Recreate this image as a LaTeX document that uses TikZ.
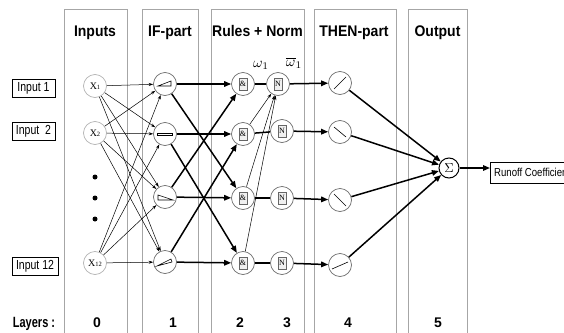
\documentclass[tikz,border=0pt]{standalone}
\usepackage{fontspec}
\setmainfont{Liberation Sans}
\newfontfamily\serifx{Liberation Serif}
\usetikzlibrary{arrows.meta}
\newcommand{\tall}[2]{\scalebox{1}[#1]{#2}}
\begin{document}
\begin{tikzpicture}[x=1pt,y=-1pt,
  colbox/.style={draw=gray!70, line width=0.8pt},
  title/.style={font=\fontsize{14}{14}\selectfont\bfseries, anchor=base, inner sep=0pt},
  layer/.style={font=\fontsize{14}{14}\selectfont\bfseries, anchor=base, inner sep=0pt},
  inbox/.style={draw, line width=0.9pt, minimum width=43pt, minimum height=18pt, inner sep=0pt, font=\fontsize{10.5}{10.5}\selectfont},
  neuron/.style={circle, draw=gray!85!black, line width=0.7pt, minimum size=23pt, inner sep=0pt},
  thinarr/.style={-{Stealth[length=4.5pt,width=3pt]}, line width=0.5pt},
  thickarr/.style={-{Triangle[length=7pt,width=5.5pt]}, line width=1.5pt},
  thickline/.style={line width=1.5pt},
  glyph/.style={line width=0.6pt},
  minibox/.style={draw=gray!80!black, fill=gray!12, line width=0.6pt, minimum width=8pt, minimum height=12pt, inner sep=0pt, font=\serifx\fontsize{8}{8}\selectfont}
]
\useasboundingbox (0,0) rectangle (564,332);
\clip (0,0) rectangle (564,332);

% column boxes
\draw[colbox] (64,9) rectangle (127,345);
\draw[colbox] (142,9) rectangle (198,345);
\draw[colbox] (211,9) rectangle (304,345);
\draw[colbox] (314,9) rectangle (396,345);
\draw[colbox] (408,9) rectangle (467,345);

% titles
\node[title] (tin) at (95,36) {\tall{1.1}{Inputs}};
\node[title] (tif) at (170,36) {\tall{1.1}{IF-part}};
\node[title] (tru) at (257.5,36) {\tall{1.1}{Rules + Norm}};
\node[title] (tth) at (354,36) {\tall{1.1}{THEN-part}};
\node[title] (tou) at (437.5,36) {\tall{1.1}{Output}};

% input boxes
\node[inbox] (in1) at (33.5,88) {\tall{1.25}{Input 1}};
\node[inbox] (in2) at (33.5,131) {\tall{1.25}{Input\ \ 2}};
\node[inbox, minimum width=46pt] (in12) at (35,266) {\tall{1.25}{Input 12}};

% layer 0
\node[neuron, draw=gray!60] (x1) at (95,86) {\serifx\fontsize{10}{10}\selectfont X\raisebox{-0.5pt}{\fontsize{6.5}{6.5}\selectfont 1}};
\node[neuron, draw=gray!60] (x2) at (95,133) {\serifx\fontsize{10}{10}\selectfont X\raisebox{-0.5pt}{\fontsize{6.5}{6.5}\selectfont 2}};
\node[neuron, draw=gray!60] (x12) at (95,263) {\serifx\fontsize{10}{10}\selectfont X\raisebox{-0.5pt}{\fontsize{6.5}{6.5}\selectfont 12}};
\fill (95,177) circle (2.5);
\fill (95,198) circle (2.5);
\fill (95,219) circle (2.5);

% layer 1
\node[neuron] (if1) at (165,84) {};
\node[neuron] (if2) at (165,134) {};
\node[neuron] (if3) at (165,197) {};
\node[neuron] (if4) at (165,262) {};
\begin{scope}[shift={(if1.center)}]
  \draw[glyph] (-7,2) -- (6,2) -- (6,-3) -- cycle;
\end{scope}
\begin{scope}[shift={(if2.center)}]
  \draw[glyph] (-8,-1) rectangle (7,1.5);
\end{scope}
\begin{scope}[shift={(if3.center)}]
  \draw[glyph] (-7,-2) -- (-7,3) -- (8,3) -- cycle;
\end{scope}
\begin{scope}[shift={(if4.center)}]
  \draw[glyph] (-8,4) -- (7,0) -- (6,-3) -- cycle;
\end{scope}

% layer 2 and 3
\foreach \i/\y in {1/84,2/134,3/198,4/263}{
  \node[neuron] (r\i) at (243,\y) {};
  \node[minibox] (rb\i) at (r\i) {\&};
}
\node[neuron] (n1) at (278,84) {};
\node[neuron] (n2) at (282,131) {};
\node[neuron] (n3) at (282,198) {};
\node[neuron] (n4) at (282,263) {};
\foreach \i in {1,2,3,4}{
  \node[minibox] (nb\i) at (n\i) {N};
}

% layer 4
\node[neuron] (t1) at (340,83) {};
\node[neuron] (t2) at (340,132) {};
\node[neuron] (t3) at (340,200) {};
\node[neuron] (t4) at (340,265) {};
\begin{scope}[shift={(t1.center)}]
  \draw[glyph] (-6,6) -- (6,-6);
\end{scope}
\begin{scope}[shift={(t2.center)}]
  \draw[glyph] (-6,-5) -- (6,5);
\end{scope}
\begin{scope}[shift={(t3.center)}]
  \draw[glyph] (-6,-6) -- (6,6);
\end{scope}
\begin{scope}[shift={(t4.center)}]
  \draw[glyph] (-8,4) -- (8,-3);
\end{scope}

% layer 5
\node[circle, draw, line width=1pt, minimum size=20pt, inner sep=0pt] (sig) at (449,168) {\scalebox{1.3}{$\Sigma$}};

% output box
\draw[line width=0.9pt] (490,162) rectangle (620,183);
\node[anchor=west, inner sep=0pt, font=\fontsize{9.6}{9.6}\selectfont] (rc) at (494,172.5) {\tall{1.2}{Runoff Coefficient}};
\coordinate (rcin) at (490,168);

% weights labels
\node[inner sep=0pt] (w1) at (261,65) {\scalebox{1.45}{$\omega_1$}};
\node[inner sep=0pt] (wb1) at (294,63) {\scalebox{1.45}{$\overline{\omega}_1$}};

% layer labels
\node[anchor=base, inner sep=0pt, font=\fontsize{11}{11}\selectfont\bfseries] (lay) at (34,327) {\tall{1.35}{Layers :}};
\node[layer] (l0) at (97,327) {0};
\node[layer] (l1) at (173,327) {1};
\node[layer] (l2) at (240,327) {2};
\node[layer] (l3) at (287,327) {3};
\node[layer] (l4) at (348,327) {4};
\node[layer] (l5) at (438,327) {5};

% X -> IF
\foreach \x in {x1,x2,x12}{
  \foreach \f in {if1,if2,if3,if4}{
    \draw[thinarr] (\x) -- (\f);
  }
}

% IF -> rules
\draw[thickarr] (if1) -- (r1);
\draw[thickarr] (if1) -- (r3);
\draw[thickarr] (if2) -- (r2);
\draw[thickarr] (if2) -- (r4);
\draw[thickarr] (if3) -- (r3);
\draw[thickarr] (if3) -- (r1);
\draw[thickarr] (if4) -- (r4);
\draw[thickarr] (if4) -- (r2);

% rules -> norm -> then -> sum
\foreach \i in {1,2,3,4}{
  \draw[thickline] (r\i) -- (n\i);
  \draw[thickarr] (n\i) -- (t\i);
  \draw[thickarr] (t\i) -- (sig);
}
\draw[thinarr] (r2) -- (n1);
\draw[thinarr] (r3) -- (n1);
\draw[thinarr] (r4) -- (n1);

\draw[thickarr] (sig) -- (rcin);
\end{tikzpicture}
\end{document}
